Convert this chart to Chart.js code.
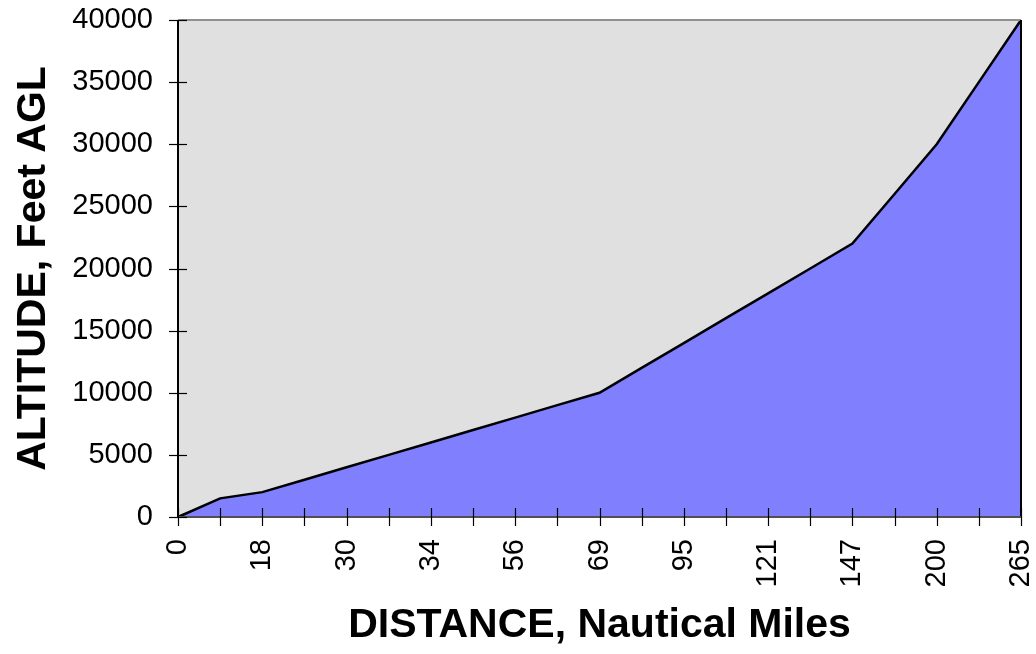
<!DOCTYPE html>
<html>
<head>
<meta charset="utf-8">
<script src="https://cdn.jsdelivr.net/npm/chart.js@4/dist/chart.umd.min.js"></script>
<style>
  html, body { margin: 0; padding: 0; background: #fff; }
  #wrap { width: 1036px; height: 654px; }
</style>
</head>
<body>
<div id="wrap"><canvas id="chart" width="1036" height="654"></canvas></div>
<script>
// distance labels (only every other one is printed on the axis)
const distanceLabels = ['0', '', '18', '', '30', '', '34', '', '56', '', '69',
                        '', '95', '', '121', '', '147', '', '200', '', '265'];
// altitude, feet AGL
const altitudeFeet = [0, 1500, 2000, 3000, 4000, 5000, 6000, 7000, 8000, 9000, 10000,
                      12000, 14000, 16000, 18000, 20000, 22000, 26000, 30000, 35000, 40000];
const altitudeTicks = [0, 5000, 10000, 15000, 20000, 25000, 30000, 35000, 40000];

const FONT = '"Liberation Sans", Arial, sans-serif';

// grey plot background + frame + the little tick marks that cross the axes
const plotFrame = {
    id: 'plotFrame',
    beforeDatasetsDraw(chart) {
        const { ctx, chartArea: a } = chart;
        ctx.save();
        ctx.fillStyle = '#e0e0e0';
        ctx.fillRect(a.left, a.top, a.right - a.left, a.bottom - a.top);
        ctx.restore();
    },
    afterDatasetsDraw(chart) {
        const { ctx, chartArea: a, scales } = chart;
        ctx.save();
        ctx.lineWidth = 2;
        ctx.strokeStyle = '#909090';
        ctx.beginPath();
        ctx.moveTo(a.left, a.top);
        ctx.lineTo(a.right, a.top);
        ctx.stroke();

        ctx.strokeStyle = '#000';
        ctx.beginPath();
        ctx.moveTo(a.right, a.top);
        ctx.lineTo(a.right, a.bottom);
        ctx.stroke();

        ctx.strokeStyle = '#505050';
        ctx.beginPath();
        ctx.moveTo(a.left, a.bottom);
        ctx.lineTo(a.right, a.bottom);
        ctx.stroke();

        ctx.strokeStyle = '#000';
        ctx.beginPath();
        ctx.moveTo(a.left, a.top);
        ctx.lineTo(a.left, a.bottom);
        ctx.stroke();

        ctx.lineWidth = 1.2;
        ctx.strokeStyle = '#000';
        scales.x.ticks.forEach((t, i) => {
            const x = Math.round(scales.x.getPixelForTick(i)) + 0.5;
            ctx.beginPath();
            ctx.moveTo(x, a.bottom - 9);
            ctx.lineTo(x, a.bottom + 9);
            ctx.stroke();
        });
        scales.y.ticks.forEach((t, i) => {
            const y = Math.round(scales.y.getPixelForTick(i)) + 0.5;
            ctx.beginPath();
            ctx.moveTo(a.left - 9, y);
            ctx.lineTo(a.left + 9, y);
            ctx.stroke();
        });
        ctx.restore();
    }
};

new Chart(document.getElementById('chart'), {
    type: 'line',
    data: {
        labels: distanceLabels,
        datasets: [{
            data: altitudeFeet,
            fill: 'origin',
            backgroundColor: '#8080ff',
            borderColor: '#000',
            borderWidth: 2.5,
            tension: 0,
            pointRadius: 0,
            clip: false
        }]
    },
    options: {
        responsive: false,
        animation: false,
        layout: { padding: { top: 20, right: 15, left: 0, bottom: 0 } },
        plugins: { legend: { display: false }, tooltip: { enabled: false } },
        scales: {
            x: {
                type: 'category',
                offset: false,
                grid: { display: false, drawTicks: false },
                border: { display: false },
                ticks: {
                    autoSkip: false,
                    minRotation: 90,
                    maxRotation: 90,
                    padding: 22,
                    color: '#000',
                    font: { family: FONT, size: 29 }
                },
                title: {
                    display: true,
                    text: 'DISTANCE, Nautical Miles',
                    color: '#000',
                    font: { family: FONT, size: 41, weight: 'bold', lineHeight: 1 },
                    padding: { top: 8, bottom: 8 }
                },
                afterFit(scale) {
                    scale.height = 137;
                    scale.paddingLeft = 0;
                    scale.paddingRight = 0;
                }
            },
            y: {
                min: 0,
                max: 40000,
                grid: { display: false, drawTicks: false },
                border: { display: false },
                afterBuildTicks(scale) {
                    scale.ticks = altitudeTicks.map(v => ({ value: v }));
                },
                ticks: {
                    padding: 25,
                    color: '#000',
                    font: { family: FONT, size: 29 },
                    callback: v => String(v)
                },
                title: {
                    display: true,
                    text: 'ALTITUDE, Feet AGL',
                    color: '#000',
                    font: { family: FONT, size: 41, weight: 'bold', lineHeight: 1 },
                    padding: { top: 13, bottom: 13 }
                },
                afterFit(scale) {
                    scale.width = 178;
                    scale.paddingTop = 0;
                    scale.paddingBottom = 0;
                }
            }
        }
    },
    plugins: [plotFrame]
});
</script>
</body>
</html>
